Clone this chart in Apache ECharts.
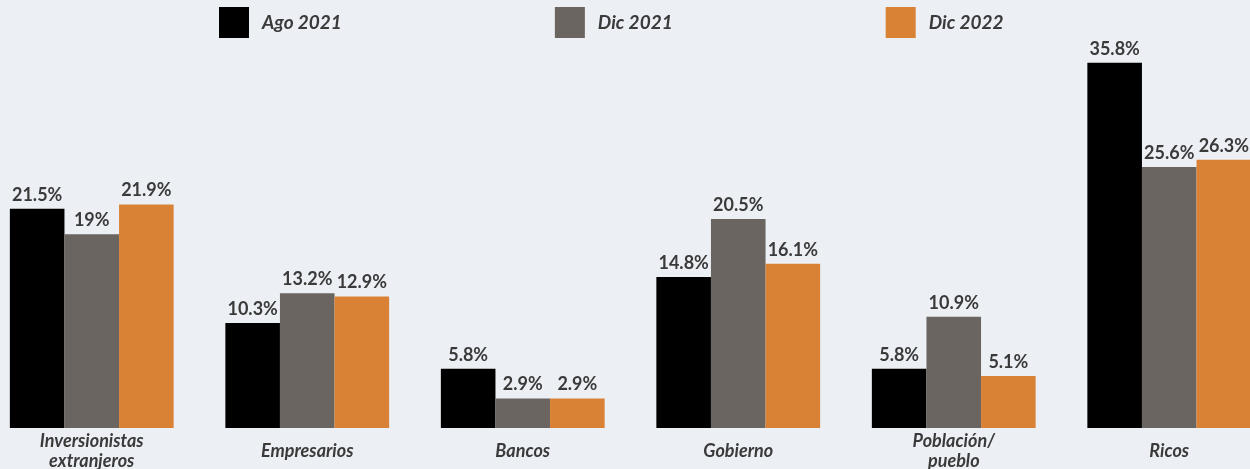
<!DOCTYPE html>
<html>
<head>
<meta charset="utf-8">
<script src="https://cdn.jsdelivr.net/npm/echarts@6/dist/echarts.min.js"></script>
<style>
html,body{margin:0;padding:0;background:#eceff4;}
#main{width:1250px;height:469px;}
</style>
</head>
<body>
<div id="main"></div>
<script>
const categories = ['Inversionistas\nextranjeros', 'Empresarios', 'Bancos', 'Gobierno', 'Población/\npueblo', 'Ricos'];
const seriesNames = ['Ago 2021', 'Dic 2021', 'Dic 2022'];
const ago2021 = [21.5, 10.3, 5.8, 14.8, 5.8, 35.8];
const dic2021 = [19, 13.2, 2.9, 20.5, 10.9, 25.6];
const dic2022 = [21.9, 12.9, 2.9, 16.1, 5.1, 26.3];
const colors = ['#000000', '#6b6561', '#d98235'];

const textColor = '#3a3a3a';
const font = 'Lato';

function mk(name, data, color) {
  return {
    name: name,
    type: 'bar',
    data: data,
    barGap: '0%',
    barCategoryGap: '24%',
    itemStyle: { color: color },
    label: {
      show: true,
      position: 'top',
      distance: 5,
      formatter: p => p.value + '%',
      color: textColor,
      fontFamily: font,
      fontWeight: 'bold',
      fontSize: 18
    }
  };
}

const chart = echarts.init(document.getElementById('main'));
chart.setOption({
  backgroundColor: '#eceff4',
  animation: false,
  legend: {
    top: 2,
    left: 214,
    itemWidth: 30,
    itemHeight: 31,
    itemGap: 213,
    icon: 'rect',
    textStyle: {
      color: textColor,
      fontFamily: font,
      fontWeight: 'bold',
      fontStyle: 'italic',
      fontSize: 19,
      padding: [0, 0, 0, 8]
    },
    data: seriesNames
  },
  grid: { left: -16, width: 1293, top: 20, bottom: 41, outerBoundsMode: 'none', containLabel: false },
  xAxis: {
    type: 'category',
    data: categories,
    axisLine: { show: false },
    axisTick: { show: false },
    axisLabel: {
      interval: 0,
      margin: 23,
      verticalAlign: 'middle',
      lineHeight: 20,
      color: textColor,
      fontFamily: font,
      fontWeight: 'bold',
      fontStyle: 'italic',
      fontSize: 18
    }
  },
  yAxis: {
    type: 'value',
    min: 0,
    max: 40,
    show: false,
    splitLine: { show: false }
  },
  series: [
    mk(seriesNames[0], ago2021, colors[0]),
    mk(seriesNames[1], dic2021, colors[1]),
    mk(seriesNames[2], dic2022, colors[2])
  ]
});
</script>
</body>
</html>
